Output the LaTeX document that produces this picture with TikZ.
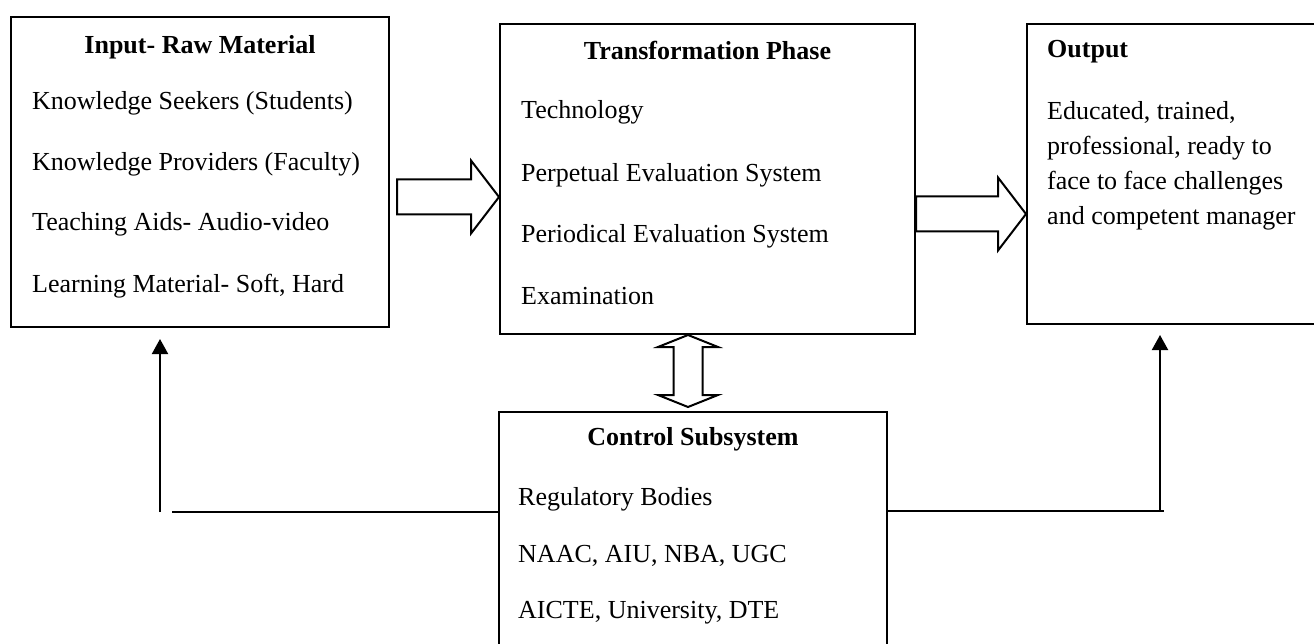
\documentclass[tikz,border=0pt]{standalone}
\usepackage{fontspec}
\setmainfont{Liberation Serif}
\usetikzlibrary{calc,arrows.meta}
\def\fatarrowR(#1)(#2){\draw[hollow] ($(#1)+(0,-17.5)$) -- ($(#2)+(-28,-17.5)$) -- ($(#2)+(-28,-36.5)$) -- (#2) -- ($(#2)+(-28,36.5)$) -- ($(#2)+(-28,17.5)$) -- ($(#1)+(0,17.5)$) -- cycle;}
\def\fatarrowV(#1)(#2){\draw[hollow] (#1) -- ($(#1)+(30,12)$) -- ($(#1)+(14.5,12)$) -- ($(#2)+(14.5,-12)$) -- ($(#2)+(30,-12)$) -- (#2) -- ($(#2)+(-30,-12)$) -- ($(#2)+(-14.5,-12)$) -- ($(#1)+(-14.5,12)$) -- ($(#1)+(-30,12)$) -- cycle;}
\tikzset{
	box/.style={draw, line width=2pt, anchor=north west, inner sep=0pt},
	item/.style={anchor=base west, inner sep=0pt},
	head/.style={anchor=base, inner sep=0pt, font=\fontsize{26}{30}\selectfont\bfseries},
	hollow/.style={draw, line width=2pt, fill=white, line join=miter},
	feed/.style={line width=2pt},
}

\begin{document}
\begin{tikzpicture}[x=1pt, y=-1pt, font=\fontsize{26}{35}\selectfont]
		%%%%% START %%%%%
		\clip (0,0) rectangle (1314,644);
		
		\node[box, minimum width=378pt, minimum height=310pt] (inp) at (10,16) {};
		\node[box, minimum width=415pt, minimum height=310pt] (trans) at (499,23) {};
		\node[box, minimum width=320pt, minimum height=300pt] (outp) at (1026,23) {};
		\node[box, minimum width=388pt, minimum height=260pt] (ctrl) at (498,411) {};
		
		% input
		\node[head] (inT) at (inp.north |- 0,54) {Input- Raw Material};
		\node[item] (in1) at (32,110) {Knowledge Seekers (Students)};
		\node[item] (in2) at (32,171) {Knowledge Providers (Faculty)};
		\node[item] (in3) at (32,231) {Teaching Aids- Audio-video};
		\node[item] (in4) at (32,292) {Learning Material- Soft, Hard};
		
		% transformation
		\node[head] (trT) at (trans.north |- 0,60) {Transformation Phase};
		\node[item] (tr1) at (521,119) {Technology};
		\node[item] (tr2) at (521,182) {Perpetual Evaluation System};
		\node[item] (tr3) at (521,243) {Periodical Evaluation System};
		\node[item] (tr4) at (521,305) {Examination};
		
		% output
		\node[head, anchor=base west] (outT) at (1047,58) {Output};
		\node[item] (out1) at (1047,120) {Educated, trained,};
		\node[item] (out2) at (1047,155) {professional, ready to};
		\node[item] (out3) at (1047,190) {face to face challenges};
		\node[item] (out4) at (1047,225) {and competent manager};
		
		% control
		\node[head] (ctT) at (ctrl.north |- 0,445) {Control Subsystem};
		\node[item] (ct1) at (518,505) {Regulatory Bodies};
		\node[item] (ct2) at (518,562) {NAAC, AIU, NBA, UGC};
		\node[item] (ct3) at (518,618) {AICTE, University, DTE};
		
		% block arrows
		\coordinate (a1s) at (397,197);
		\coordinate (a1t) at (trans.west |- a1s);
		\fatarrowR(a1s)(a1t)
		\coordinate (a2s) at (trans.east |- 0,214);
		\coordinate (a2t) at (outp.west |- a2s);
		\fatarrowR(a2s)(a2t)
		\coordinate (dtop) at (trans.south -| 688,0);
		\coordinate (dbot) at ($(ctrl.north -| 688,0)+(0,-4)$);
		\fatarrowV(dtop)(dbot)
		
		% feedback lines
		\coordinate (fbL) at (160,512);
		\coordinate (fbLend) at (172,512);
		\draw[feed] (ctrl.west |- fbLend) -- (fbLend);
		\draw[feed, -{Triangle[length=15pt,width=16pt]}] (fbL) -- ($(inp.south -| fbL)+(0,11)$);
		
		\coordinate (fbR) at (1160,511);
		\coordinate (fbRend) at (1164,511);
		\draw[feed] (ctrl.east |- fbR) -- (fbRend);
		\draw[feed, -{Triangle[length=15pt,width=16pt]}] (fbR) -- ($(outp.south -| fbR)+(0,10)$);
		
		%%%%% END %%%%%
\end{tikzpicture}
\end{document}
